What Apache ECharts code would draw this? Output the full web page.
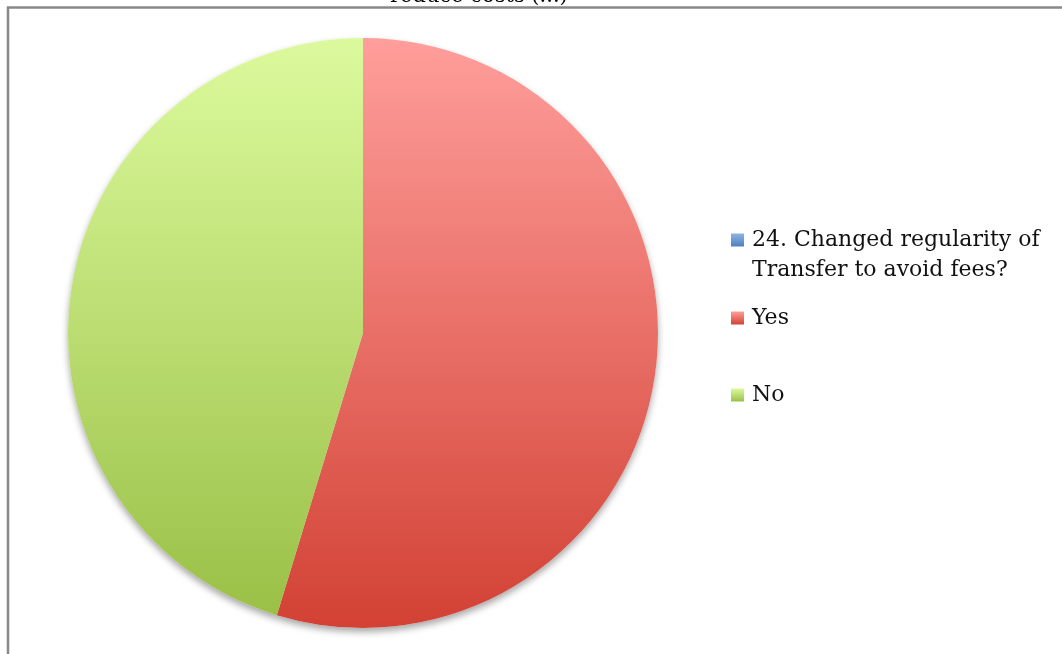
<!DOCTYPE html>
<html>
<head>
<meta charset="utf-8">
<style>
  html, body { margin: 0; padding: 0; background: #fff; }
  #chart { width: 1062px; height: 654px; }
</style>
<script src="https://cdn.jsdelivr.net/npm/echarts@6/dist/echarts.min.js"></script>
</head>
<body>
<div id="chart"></div>
<script>
// Survey answers for question 24
const categories = ['24. Changed regularity of\nTransfer to avoid fees?', 'Yes', 'No'];
const values = [0, 29, 24];
const titleText = 'reduce costs (...)';

// Vertical gradients per slice: [top colour, bottom colour]
const sliceColors = [
  ['#8DB4E2', '#4F81BD'],
  ['#FF9E9B', '#D24134'],
  ['#DCFA9D', '#9AC047']
];

const FONT = 'DejaVu Serif';
const grad = (c) => new echarts.graphic.LinearGradient(0, 0, 0, 1, [
  { offset: 0, color: c[0] }, { offset: 1, color: c[1] }
]);

const chart = echarts.init(document.getElementById('chart'), null, { renderer: 'canvas' });

const legendText = { fontFamily: FONT, fontSize: 22, color: '#111', lineHeight: 30, padding: [0, 0, 0, 3] };
const legendBase = {
  orient: 'vertical',
  selectedMode: false,
  padding: 0,
  itemWidth: 13,
  itemHeight: 13,
  icon: 'rect',
  left: 731,
  textStyle: legendText
};

const pieCommon = {
  type: 'pie',
  center: [363, 333],
  radius: 295,
  startAngle: 90,
  clockwise: true,
  minAngle: 0,
  label: { show: false },
  labelLine: { show: false },
  emphasis: { disabled: true },
  silent: true
};

chart.setOption({
  animation: false,
  backgroundColor: '#fff',
  graphic: [
    {
      type: 'rect',
      shape: { x: 8, y: 7.5, width: 1200, height: 800 },
      style: { fill: 'none', stroke: '#888', lineWidth: 2.5 },
      silent: true, z: -1
    },
    {
      type: 'text',
      x: 390, y: 7,
      style: { text: titleText, font: '21px "' + FONT + '"', fill: '#000', textVerticalAlign: 'bottom' },
      silent: true
    }
  ],
  legend: [
    // leading blank line keeps the marker level with the first text line
    Object.assign({}, legendBase, { top: 240 - 45, data: [categories[0]], formatter: '\n{name}' }),
    Object.assign({}, legendBase, { top: 318 - 15, data: [categories[1]] }),
    Object.assign({}, legendBase, { top: 395 - 15, data: [categories[2]] })
  ],
  series: [
    // soft drop shadow underneath the whole pie
    Object.assign({}, pieCommon, {
      name: 'shadow',
      z: 1,
      legendHoverLink: false,
      itemStyle: {
        color: '#fff',
        borderWidth: 0,
        shadowBlur: 7,
        shadowOffsetY: 4,
        shadowColor: 'rgba(0,0,0,0.35)'
      },
      data: values.map((v, i) => ({ name: '_s' + i, value: v }))
    }),
    Object.assign({}, pieCommon, {
      name: 'answers',
      z: 2,
      itemStyle: { borderWidth: 0 },
      data: categories.map((name, i) => ({
        name: name,
        value: values[i],
        itemStyle: { color: grad(sliceColors[i]) }
      }))
    })
  ]
});
</script>
</body>
</html>
